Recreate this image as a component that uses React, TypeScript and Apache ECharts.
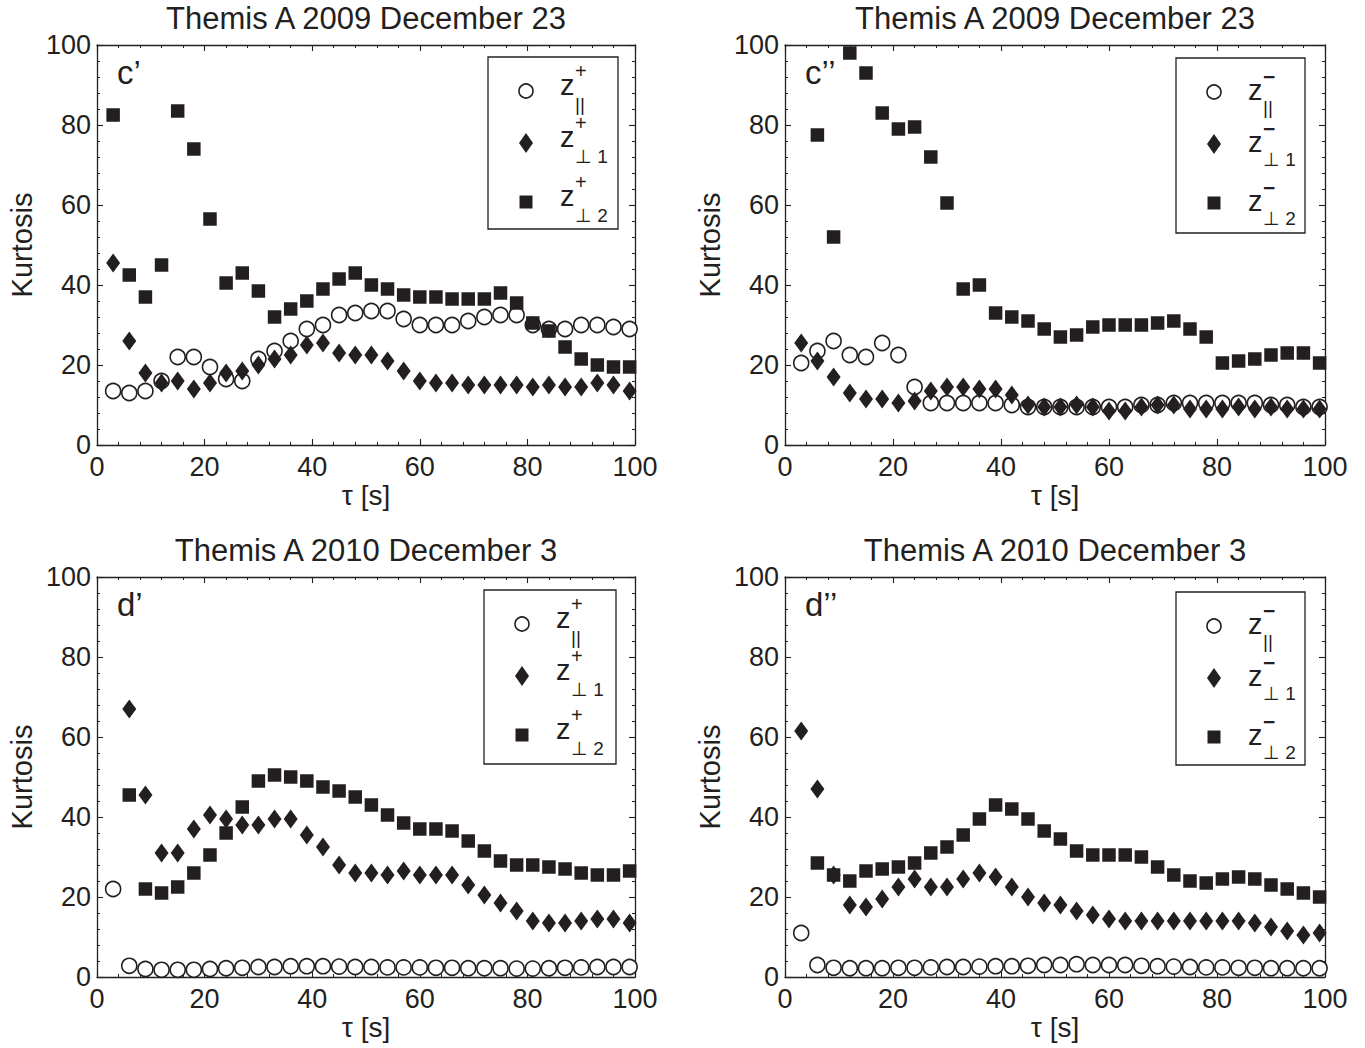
import React, { useEffect, useRef } from "react";
import * as echarts from "echarts";

// τ [s] sample lags
const tau = [3, 6, 9, 12, 15, 18, 21, 24, 27, 30, 33, 36, 39, 42, 45, 48, 51, 54, 57, 60, 63, 66, 69, 72, 75, 78, 81, 84, 87, 90, 93, 96, 99];

const xTicks = [0, 20, 40, 60, 80, 100];
const yTicks = [0, 20, 40, 60, 80, 100];

const panelTitles = ["Themis A 2009 December 23", "Themis A 2009 December 23", "Themis A 2010 December 3", "Themis A 2010 December 3"];
const panelTags = ["c\u2019", "c\u2019\u2019", "d\u2019", "d\u2019\u2019"];
const panelSigns = ["+", "\u2212", "+", "\u2212"];
const legendSubs = ["||", "\u22a5 1", "\u22a5 2"];

// Panel c' (z+), 2009 Dec 23
const cPlusPar = [13.5, 13, 13.5, 16, 22, 22, 19.5, 16.5, 16, 21.5, 23.5, 26, 29, 30, 32.5, 33, 33.5, 33.5, 31.5, 30, 30, 30, 31, 32, 32.5, 32.5, 30, 29, 29, 30, 30, 29.5, 29];
const cPlusPerp1 = [45.5, 26, 18, 15.5, 16, 14, 15.5, 18, 18.5, 20, 21.5, 22.5, 25, 25.5, 23, 22.5, 22.5, 21, 18.5, 16, 15.5, 15.5, 15, 15, 15, 15, 14.5, 15, 14.5, 14.5, 15.5, 15, 13.5];
const cPlusPerp2 = [82.5, 42.5, 37, 45, 83.5, 74, 56.5, 40.5, 43, 38.5, 32, 34, 36, 39, 41.5, 43, 40, 39, 37.5, 37, 37, 36.5, 36.5, 36.5, 38, 35.5, 30.5, 28.5, 24.5, 21.5, 20, 19.5, 19.5];

// Panel c'' (z-), 2009 Dec 23
const cMinusPar = [20.5, 23.5, 26, 22.5, 22, 25.5, 22.5, 14.5, 10.5, 10.5, 10.5, 10.5, 10.5, 10, 9.5, 9.5, 9.5, 9.5, 9.5, 9.5, 9.5, 10, 10, 10.5, 10.5, 10.5, 10.5, 10.5, 10.5, 10, 10, 9.5, 9.5];
const cMinusPerp1 = [25.5, 21, 17, 13, 11.5, 11.5, 10.5, 11, 13.5, 14.5, 14.5, 14, 14, 12.5, 10, 9.5, 9.5, 10, 9.5, 8.5, 8.5, 9.5, 10, 10, 9, 9, 9, 9.5, 9, 9.5, 9, 9, 9];
const cMinusPerp2 = [null, 77.5, 52, 98, 93, 83, 79, 79.5, 72, 60.5, 39, 40, 33, 32, 31, 29, 27, 27.5, 29.5, 30, 30, 30, 30.5, 31, 29, 27, 20.5, 21, 21.5, 22.5, 23, 23, 20.5];

// Panel d' (z+), 2010 Dec 3
const dPlusPar = [22, 2.8, 2, 1.8, 1.8, 1.8, 2, 2.2, 2.3, 2.5, 2.5, 2.7, 2.7, 2.7, 2.6, 2.5, 2.5, 2.4, 2.4, 2.4, 2.3, 2.3, 2.2, 2.2, 2.2, 2.1, 2.1, 2.2, 2.3, 2.4, 2.5, 2.5, 2.5];
const dPlusPerp1 = [null, 67, 45.5, 31, 31, 37, 40.5, 39.5, 38, 38, 39.5, 39.5, 35.5, 32.5, 28, 26, 26, 25.5, 26.5, 25.5, 25.5, 25.5, 23, 20.5, 18.5, 16.5, 14, 13.5, 13.5, 14, 14.5, 14.5, 13.5];
const dPlusPerp2 = [null, 45.5, 22, 21, 22.5, 26, 30.5, 36, 42.5, 49, 50.5, 50, 49, 47.5, 46.5, 45, 43, 40.5, 38.5, 37, 37, 36.5, 34, 31.5, 29, 28, 28, 27.5, 27, 26, 25.5, 25.5, 26.5];

// Panel d'' (z-), 2010 Dec 3
const dMinusPar = [11, 3, 2.3, 2.2, 2.2, 2.2, 2.3, 2.3, 2.4, 2.5, 2.5, 2.6, 2.7, 2.7, 2.8, 3, 3, 3.2, 3, 3, 3, 2.8, 2.7, 2.6, 2.5, 2.4, 2.4, 2.3, 2.3, 2.2, 2.2, 2.2, 2.2];
const dMinusPerp1 = [61.5, 47, 25.5, 18, 17.5, 19.5, 22.5, 24.5, 22.5, 22.5, 24.5, 26, 25, 22.5, 20, 18.5, 18, 16.5, 15.5, 14.5, 14, 14, 14, 14, 14, 14, 14, 14, 13.5, 12.5, 11.5, 10.5, 11];
const dMinusPerp2 = [null, 28.5, 25.5, 24, 26.5, 27, 27.5, 28.5, 31, 32.5, 35.5, 39.5, 43, 42, 39.5, 36.5, 34.5, 31.5, 30.5, 30.5, 30.5, 30, 27.5, 25.5, 24, 23.5, 24.5, 25, 24.5, 23, 22, 21, 20];

const panelData = [
  [cPlusPar, cPlusPerp1, cPlusPerp2],
  [cMinusPar, cMinusPerp1, cMinusPerp2],
  [dPlusPar, dPlusPerp1, dPlusPerp2],
  [dMinusPar, dMinusPerp1, dMinusPerp2],
];

const INK = "#231f20";
const FONT = "Liberation Sans, Arial, Helvetica, sans-serif";

const grids = [
  { left: 97, top: 45, width: 538, height: 400 },
  { left: 785, top: 45, width: 540, height: 400 },
  { left: 97, top: 577, width: 538, height: 400 },
  { left: 785, top: 577, width: 540, height: 400 },
];

const legendBoxes = [
  { x: 488, y: 57, w: 130, h: 172 },
  { x: 1176, y: 58, w: 129, h: 175 },
  { x: 484, y: 590, w: 132, h: 174 },
  { x: 1176, y: 592, w: 129, h: 173 },
];

function buildOption() {
  const xAxis: any[] = [];
  const yAxis: any[] = [];
  const series: any[] = [];
  const graphic: any[] = [];

  const axisCommon = {
    type: "value",
    min: xTicks[0],
    max: xTicks[xTicks.length - 1],
    interval: xTicks[1] - xTicks[0],
    axisLine: { show: true, onZero: false, lineStyle: { color: INK, width: 1.3 } },
    axisTick: { show: true, inside: true, length: 6, lineStyle: { color: INK, width: 1.1 } },
    minorTick: { show: true, splitNumber: 5, length: 3, lineStyle: { color: INK, width: 1 } },
    splitLine: { show: false },
    minorSplitLine: { show: false },
  };
  const labelStyle = { color: INK, fontSize: 27, fontFamily: FONT };

  grids.forEach((g, i) => {
    xAxis.push({
      ...axisCommon,
      gridIndex: i,
      position: "bottom",
      axisLabel: { ...labelStyle, margin: 8 },
      name: "\u03c4 [s]",
      nameLocation: "middle",
      nameGap: 36,
      nameTextStyle: { ...labelStyle, fontSize: 28 },
    });
    xAxis.push({
      ...axisCommon,
      gridIndex: i,
      position: "top",
      axisLabel: { show: false },
    });
    yAxis.push({
      ...axisCommon,
      min: yTicks[0],
      max: yTicks[yTicks.length - 1],
      interval: yTicks[1] - yTicks[0],
      gridIndex: i,
      position: "left",
      axisLabel: { ...labelStyle, margin: 6 },
      name: "Kurtosis",
      nameLocation: "middle",
      nameGap: 61,
      nameTextStyle: { ...labelStyle, fontSize: 29 },
    });
    yAxis.push({
      ...axisCommon,
      min: yTicks[0],
      max: yTicks[yTicks.length - 1],
      interval: yTicks[1] - yTicks[0],
      gridIndex: i,
      position: "right",
      axisLabel: { show: false },
    });

    const [par, p1, p2] = panelData[i];
    const toPts = (arr: (number | null)[]) =>
      arr.map((v, k) => (v == null ? null : [tau[k], v])).filter((d) => d != null);

    series.push({
      type: "scatter",
      name: "par" + i,
      xAxisIndex: 2 * i,
      yAxisIndex: 2 * i,
      symbol: "circle",
      symbolSize: 15,
      itemStyle: { color: "#ffffff", borderColor: INK, borderWidth: 1.6, opacity: 1 },
      data: toPts(par),
      clip: false,
    });
    series.push({
      type: "scatter",
      name: "perp1" + i,
      xAxisIndex: 2 * i,
      yAxisIndex: 2 * i,
      symbol: "diamond",
      symbolSize: [14, 19],
      itemStyle: { color: INK, opacity: 1 },
      data: toPts(p1),
      clip: false,
    });
    series.push({
      type: "scatter",
      name: "perp2" + i,
      xAxisIndex: 2 * i,
      yAxisIndex: 2 * i,
      symbol: "rect",
      symbolSize: 13.5,
      itemStyle: { color: INK, opacity: 1 },
      data: toPts(p2),
      clip: false,
    });

    // title
    graphic.push({
      type: "text",
      x: g.left + g.width / 2,
      y: 18 + (g.top - 45),
      style: { text: panelTitles[i], fontSize: 31, fontFamily: FONT, fill: INK, align: "center", verticalAlign: "middle" },
    });
    // panel tag
    graphic.push({
      type: "text",
      x: g.left + 20,
      y: g.top + 27,
      style: { text: panelTags[i], fontSize: 33, fontFamily: FONT, fill: INK, align: "left", verticalAlign: "middle" },
    });

    // legend
    const b = legendBoxes[i];
    const plus = panelSigns[i] === "+";
    graphic.push({
      type: "rect",
      shape: { x: b.x, y: b.y, width: b.w, height: b.h },
      style: { fill: "#ffffff", stroke: INK, lineWidth: 1.3 },
      z: 10,
    });
    const mx = b.x + 38;
    const rowsY = [b.y + 34, b.y + 86, b.y + 145];
    graphic.push({
      type: "circle",
      shape: { cx: mx, cy: rowsY[0], r: 7 },
      style: { fill: "#ffffff", stroke: INK, lineWidth: 1.6 },
      z: 11,
    });
    graphic.push({
      type: "polygon",
      shape: { points: [[mx, rowsY[1] - 10], [mx + 7, rowsY[1]], [mx, rowsY[1] + 10], [mx - 7, rowsY[1]]] },
      style: { fill: INK },
      z: 11,
    });
    graphic.push({
      type: "rect",
      shape: { x: mx - 6.5, y: rowsY[2] - 6.5, width: 13, height: 13 },
      style: { fill: INK },
      z: 11,
    });
    rowsY.forEach((ry, r) => {
      const zc = plus ? ry - 6 : ry - 2;
      // base letter
      graphic.push({
        type: "text",
        x: b.x + 72,
        y: zc,
        z: 11,
        style: { text: "z", fontSize: 29, fontFamily: FONT, fill: INK, align: "left", verticalAlign: "middle" },
      });
      // superscript sign (set just right of the base letter)
      graphic.push({
        type: "text",
        x: b.x + 87,
        y: zc - 14,
        z: 11,
        style: {
          text: panelSigns[i],
          fontSize: plus ? 20 : 21,
          fontWeight: plus ? "normal" : "bold",
          fontFamily: FONT,
          fill: INK,
          align: "left",
          verticalAlign: "middle",
        },
      });
      // subscript
      graphic.push({
        type: "text",
        x: b.x + 87,
        y: zc + (plus ? 19 : 17),
        z: 11,
        style: { text: legendSubs[r], fontSize: 19, fontFamily: FONT, fill: INK, align: "left", verticalAlign: "middle" },
      });
    });
  });

  return {
    animation: false,
    backgroundColor: "#ffffff",
    grid: grids.map((g) => ({ ...g, containLabel: false })),
    xAxis,
    yAxis,
    series,
    graphic,
  };
}

export default function App() {
  const ref = useRef<HTMLDivElement>(null);
  useEffect(() => {
    if (!ref.current) return;
    const chart = echarts.init(ref.current, undefined, { renderer: "svg" });
    chart.setOption(buildOption() as any);
    return () => chart.dispose();
  }, []);
  return (
    <div
      ref={ref}
      style={{ position: "absolute", left: 0, top: 0, width: 1365, height: 1048, background: "#fff" }}
    />
  );
}
